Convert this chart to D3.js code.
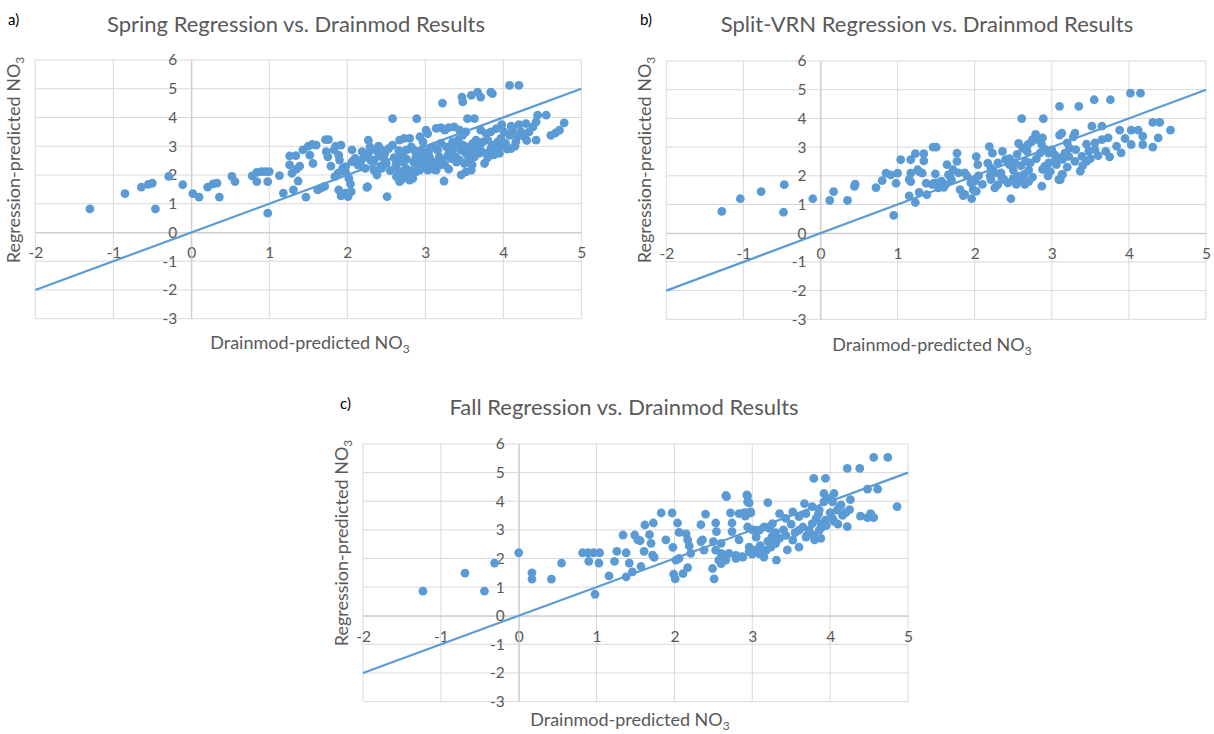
<!DOCTYPE html>
<html>
<head>
<meta charset="utf-8">
<script src="https://cdn.jsdelivr.net/npm/d3@7"></script>
<style>
  body { margin: 0; background: #fff; }
  svg { display: block; font-family: Lato, "Open Sans", sans-serif; }
</style>
</head>
<body>
<svg id="chart" width="1214" height="734"></svg>
<script>
// [Drainmod-predicted NO3, Regression-predicted NO3]
var springPoints = [
  [-1.3,0.82],[-0.85,1.35],[-0.64,1.58],[-0.55,1.67],[-0.5,1.72],[-0.46,0.82],[-0.29,1.95],[-0.11,1.66],
  [0.02,1.35],[0.1,1.23],[0.21,1.58],[0.28,1.69],[0.33,1.72],[0.36,1.23],[0.52,1.95],[0.56,1.77],
  [0.78,1.97],[0.84,2.09],[0.9,2.12],[0.95,2.12],[1.0,2.12],[0.84,1.77],[0.98,1.77],[0.98,0.67],
  [1.13,1.98],[1.18,1.37],[1.26,2.66],[1.34,2.67],[1.26,2.35],[1.29,2.06],[1.31,1.48],[1.35,2.2],
  [1.39,2.31],[1.37,1.79],[1.43,2.87],[1.5,3.0],[1.55,3.06],[1.6,3.04],[1.47,1.23],[1.52,2.69],
  [1.56,2.4],[1.62,1.48],[1.66,1.54],[1.71,1.6],[1.72,3.23],[1.76,3.23],[1.73,2.81],[1.75,2.63],
  [1.79,2.31],[1.83,2.87],[1.85,3.0],[1.89,2.69],[1.9,2.52],[1.92,3.04],[1.89,1.48],[1.92,1.27],
  [1.98,2.29],[1.98,2.08],[1.98,1.37],[2.02,1.88],[2.06,2.87],[2.06,2.46],[2.1,2.58],[2.01,1.25],
  [2.04,1.69],[2.05,1.42],[1.84,1.94],[1.88,2.06],[1.94,2.23],[2.19,2.81],[2.23,2.63],[2.27,2.75],
  [2.27,3.21],[2.17,2.35],[2.23,2.23],[2.14,2.34],[2.18,2.52],[2.29,2.98],[2.34,2.52],[2.36,2.87],
  [2.4,3.0],[2.44,2.87],[2.34,2.17],[2.38,2.0],[2.25,1.57],[2.44,2.23],[2.48,2.52],[2.51,1.25],
  [2.26,1.59],[2.48,2.75],[2.53,2.92],[2.58,3.04],[2.43,2.29],[2.5,2.4],[2.58,3.96],[2.63,2.4],
  [2.65,2.17],[2.63,1.94],[2.67,1.77],[2.69,2.63],[2.71,2.75],[2.75,2.86],[2.67,3.21],[2.73,3.27],
  [2.8,3.27],[2.82,2.98],[2.86,2.86],[2.88,2.63],[2.9,2.34],[2.88,2.11],[2.84,1.88],[2.75,2.23],
  [2.78,2.0],[2.8,1.82],[2.89,3.96],[2.93,3.33],[2.97,3.15],[3.01,3.56],[3.03,3.44],[2.95,2.86],
  [2.99,2.75],[3.05,2.86],[3.1,2.98],[2.97,2.46],[3.01,2.34],[3.07,2.52],[3.12,2.4],[2.93,2.17],
  [2.99,2.29],[3.03,2.17],[3.14,3.62],[3.2,3.65],[3.25,3.56],[3.3,3.65],[3.16,2.86],[3.2,3.1],
  [3.27,2.98],[3.31,2.86],[3.35,3.15],[3.39,3.04],[3.18,2.63],[3.22,2.52],[3.29,2.69],[3.33,2.57],
  [3.39,2.63],[3.14,2.17],[3.18,2.34],[3.24,1.79],[3.22,4.5],[3.37,3.67],[3.44,3.56],[3.48,3.38],
  [3.52,3.5],[3.42,3.21],[3.48,3.04],[3.54,2.98],[3.61,3.1],[3.65,3.21],[3.46,2.86],[3.52,2.75],
  [3.59,2.81],[3.63,2.63],[3.69,2.75],[3.44,2.52],[3.5,2.4],[3.56,2.46],[3.46,2.0],[3.52,2.11],
  [3.59,2.17],[3.47,4.71],[3.48,4.54],[3.54,3.96],[3.63,3.96],[3.59,4.77],[3.67,4.88],[3.71,4.71],
  [3.84,4.88],[3.86,4.83],[3.71,3.56],[3.78,3.44],[3.84,3.5],[3.91,3.61],[3.74,3.15],[3.8,3.21],
  [3.86,3.04],[3.93,3.15],[3.71,2.86],[3.78,2.75],[3.84,2.92],[3.91,2.86],[3.76,2.4],[3.97,3.27],
  [4.01,3.5],[4.08,3.38],[4.12,3.56],[4.18,3.33],[4.23,3.5],[3.97,2.98],[4.03,3.1],[4.1,2.92],
  [4.16,3.15],[4.08,5.12],[4.2,5.12],[4.29,3.79],[4.38,3.67],[4.42,3.85],[4.44,4.08],[4.55,4.08],
  [4.42,3.21],[4.33,3.5],[4.27,3.33],[4.61,3.38],[4.67,3.46],[4.72,3.56],[4.78,3.81],
  [2.62,2.3],[2.68,2.05],[2.72,2.45],[2.7,1.85],[2.76,2.55],[2.82,2.15],[2.85,2.45],[2.92,2.6],
  [2.6,2.6],[2.66,2.85],[3.05,2.65],[3.1,2.2],[3.15,2.45],[3.25,2.35],[3.3,2.2],[3.35,2.85],
  [3.4,2.45],[3.55,2.65],[3.6,2.35],[3.65,2.95],[3.7,3.05],[3.8,2.6],[3.88,2.7],[3.95,2.75],
  [4.05,2.9],[4.15,3.0],[4.3,3.2],[4.2,3.75],[4.1,3.7],[3.98,3.75],[2.4,2.65],[2.55,2.15],[2.3,2.5]
];

var splitPoints = [
  [-1.28,0.76],[-1.04,1.2],[-0.77,1.45],[-0.47,1.69],[-0.48,0.73],[-0.1,1.2],[0.12,1.14],[0.17,1.45],
  [0.35,1.14],[0.44,1.63],[0.45,1.71],[0.72,1.59],[0.8,1.83],[0.85,2.09],[0.91,2.03],[1.0,2.09],
  [0.98,1.74],[0.95,0.62],[1.04,2.56],[1.17,2.56],[1.23,2.77],[1.34,2.77],[1.34,2.52],[1.17,2.09],
  [1.28,2.15],[1.32,2.09],[1.17,1.8],[1.37,1.74],[1.15,1.3],[1.23,1.07],[1.28,1.42],[1.38,1.34],
  [1.46,3.0],[1.5,3.0],[1.49,2.07],[1.47,1.74],[1.26,2.21],[1.15,1.87],[1.45,1.69],[1.51,1.75],
  [1.53,1.58],[1.64,2.39],[1.66,2.04],[1.77,2.79],[1.77,2.5],[1.72,2.21],[1.79,2.1],[1.68,1.98],
  [1.57,1.81],[1.62,1.69],[1.87,2.1],[1.85,1.31],[1.96,1.2],[2.02,2.67],[2.04,2.39],[2.0,1.81],
  [1.98,1.52],[2.02,1.46],[2.19,3.02],[2.23,2.79],[2.17,2.44],[2.21,2.27],[2.26,2.1],[2.21,1.87],
  [2.26,1.58],[2.3,1.69],[2.36,2.85],[2.4,2.56],[2.45,2.39],[2.34,2.1],[2.38,1.87],[2.43,1.75],
  [2.47,1.2],[2.57,3.13],[2.62,2.96],[2.68,2.85],[2.74,3.19],[2.83,3.25],[2.87,3.08],[2.61,3.99],
  [2.89,3.99],[2.5,2.2],[2.55,2.0],[2.6,1.85],[2.65,1.7],[2.6,2.35],[2.66,2.5],[2.7,2.2],
  [2.72,2.45],[2.75,1.95],[2.7,1.8],[2.96,2.79],[3.0,2.9],[3.04,2.73],[3.1,2.62],[3.17,2.79],
  [3.23,2.96],[3.1,3.42],[3.28,3.36],[2.87,1.64],[2.91,2.33],[2.98,2.15],[3.06,2.39],[3.13,2.04],
  [3.09,1.87],[3.1,4.42],[3.35,4.42],[3.55,4.65],[3.76,4.65],[4.02,4.88],[4.15,4.88],[3.13,3.49],
  [3.3,3.49],[3.52,3.73],[3.65,3.73],[3.88,3.59],[4.03,3.59],[4.12,3.59],[4.18,3.38],[4.31,3.86],
  [4.4,3.86],[4.54,3.59],[4.38,3.32],[4.31,3.0],[4.18,3.09],[4.03,3.09],[3.75,2.66],[3.9,2.8],
  [3.84,3.03],[3.73,3.32],[3.65,3.26],[3.56,3.15],[3.37,2.16],[3.11,1.87],[3.14,2.05],[3.31,2.91],
  [3.39,2.68],[3.48,2.86],[3.56,2.91],[3.22,2.68],[3.14,2.57],[2.92,2.91],[3.01,2.8],[3.05,2.57],
  [2.96,2.45],[2.88,2.22],[2.75,3.26],[2.79,3.44],[2.88,3.32],[2.69,3.09],
  [3.45,2.5],[3.5,2.6],[3.4,2.35],[3.6,2.7],[3.7,2.85],[3.95,3.3],[2.55,2.75],[2.45,2.6],
  [2.3,2.45],[2.2,2.0],[2.35,1.95],[2.5,1.9],[2.95,2.0],[3.2,2.3],[3.3,2.5],[3.45,3.1],
  [3.2,3.15],[1.95,1.75],[1.9,2.0],[2.1,1.7],[2.05,2.0],[1.7,1.85],[1.6,1.6],[2.8,2.6],
  [2.85,2.8],[2.64,2.05],[2.52,2.45],[2.58,1.81],[1.87,1.35],[1.81,1.52],[2.54,1.7]
];

var fallPoints = [
  [-1.23,0.86],[-0.69,1.49],[-0.44,0.86],[-0.31,1.84],[0.0,2.2],[0.17,1.5],[0.17,1.28],[0.42,1.28],
  [0.55,1.84],[0.82,2.2],[0.89,2.2],[0.96,2.2],[1.04,2.2],[0.9,1.9],[1.03,1.84],[0.98,0.75],
  [1.16,1.39],[1.23,1.9],[1.26,2.25],[1.34,2.82],[1.38,2.2],[1.38,1.36],[1.46,1.53],[1.42,1.84],
  [1.49,2.82],[1.56,2.62],[1.62,3.17],[1.68,2.83],[1.61,2.25],[1.57,1.72],[1.53,2.65],[1.7,2.53],
  [1.72,2.12],[1.74,2.04],[1.73,3.24],[1.83,3.59],[1.97,3.59],[1.89,2.65],[2.04,3.24],[1.98,2.39],
  [2.02,1.94],[2.06,2.0],[1.99,1.45],[2.01,1.29],[2.11,1.47],[2.17,1.68],[2.21,2.18],[2.06,2.91],
  [2.15,2.86],[2.17,2.65],[2.19,2.44],[2.34,3.18],[2.4,3.55],[2.36,2.65],[2.38,2.29],[2.34,2.59],
  [2.49,1.65],[2.51,1.29],[2.53,3.24],[2.54,2.94],[2.5,2.59],[2.53,2.29],[2.6,2.53],[2.6,2.18],
  [2.57,1.94],[2.66,1.94],[2.7,2.18],[2.66,4.2],[2.72,3.59],[2.74,3.24],[2.74,2.94],[2.83,2.65],
  [2.89,3.59],[2.98,3.59],[2.94,4.18],[2.96,3.94],[3.0,3.0],[2.79,2.0],[2.87,2.06],[2.96,2.24],
  [3.02,2.29],[3.09,2.18],[3.15,2.29],[4.56,5.53],[4.74,5.53],[4.22,5.15],[4.38,5.15],[3.79,4.8],
  [3.94,4.8],[3.92,4.27],[4.05,4.27],[4.48,4.42],[4.61,4.42],[4.86,3.81],[4.39,3.48],[4.48,3.43],
  [4.56,3.43],[4.52,3.57],[4.26,4.06],[4.25,3.71],[4.16,3.51],[4.22,3.11],[4.14,3.87],[4.09,3.69],
  [4.03,3.4],[3.2,3.95],[2.93,3.6],[2.98,3.63],[2.91,3.48],[3.31,1.94],[2.6,1.82],[2.79,2.11],
  [2.88,2.05],[2.67,4.16],[2.93,4.22],[2.94,3.98],[2.83,3.57],
  [2.94,3.1],[3.03,2.99],[3.09,2.99],[3.15,3.1],[3.22,3.05],[3.26,3.22],[3.35,3.57],[3.43,3.4],
  [3.52,3.63],[3.6,3.46],[3.67,3.92],[2.96,2.4],[3.03,2.23],[3.09,2.17],[3.18,2.29],[3.24,2.4],
  [3.3,2.52],[3.35,2.7],[3.43,2.81],[3.52,2.64],[3.6,2.4],[3.86,2.99],[3.88,2.7],[3.79,2.81],
  [3.73,2.99],[3.69,3.57],[3.77,3.81],[3.86,3.69],[3.92,3.98],[3.94,3.34],[3.88,3.22],[3.6,2.99],
  [3.69,2.75],[3.77,3.22],[3.82,3.4],[4.03,3.98],[4.12,3.81],
  [3.25,2.75],[3.4,3.0],[3.5,3.2],[3.65,3.1],[3.7,2.8],[3.8,2.65],[3.85,3.55],[3.9,3.1],
  [3.55,2.9],[3.45,2.3],[3.3,2.9],[3.1,2.45],[3.2,2.6],[3.15,2.05],[3.0,2.15],[3.05,2.75],
  [3.95,3.15],[4.05,3.3],[4.1,3.2],[4.2,3.6],[3.98,4.1],[4.0,3.6]
];

var xTicks = [-2, -1, 0, 1, 2, 3, 4, 5];
var yTicks = [-3, -2, -1, 0, 1, 2, 3, 4, 5, 6];
var panelLetters = ["a)", "b)", "c)"];
var panelTitles = [
  "Spring Regression vs. Drainmod Results",
  "Split-VRN Regression vs. Drainmod Results",
  "Fall Regression vs. Drainmod Results"
];

var blue = "#5b9bd5";
var grey = "#595959";

// plot boxes and text positions for the three panels
var layouts = [
  {left: 35.3, right: 581.3, top: 60, bottom: 318.7, titleX: 296, titleY: 32, letterX: 8, letterY: 25,
   yTitleX: 20, yTitleY: 160, xTitleX: 310, xTitleY: 349},
  {left: 666.3, right: 1206, top: 61, bottom: 319.3, titleX: 927, titleY: 32, letterX: 640, letterY: 25,
   yTitleX: 651, yTitleY: 160, xTitleX: 932, xTitleY: 351},
  {left: 363, right: 908, top: 444, bottom: 701.6, titleX: 624, titleY: 415, letterX: 340, letterY: 409,
   yTitleX: 348, yTitleY: 543, xTitleX: 630, xTitleY: 726}
];

var svg = d3.select("#chart");

function drawPanel(points, i) {
  var L = layouts[i];
  var x = d3.scaleLinear().domain([-2, 5]).range([L.left, L.right]);
  var y = d3.scaleLinear().domain([-3, 6]).range([L.bottom, L.top]);
  var g = svg.append("g");

  g.selectAll(".vgrid").data(xTicks).join("line")
    .attr("x1", d => x(d)).attr("x2", d => x(d))
    .attr("y1", y(-3)).attr("y2", y(6))
    .attr("stroke", "#d9d9d9").attr("stroke-width", 1);
  g.selectAll(".hgrid").data(yTicks).join("line")
    .attr("x1", x(-2)).attr("x2", x(5))
    .attr("y1", d => y(d)).attr("y2", d => y(d))
    .attr("stroke", "#d9d9d9").attr("stroke-width", 1);

  var xAxis = g.append("g").attr("transform", `translate(0, ${y(0)})`)
    .call(d3.axisBottom(x).tickValues(xTicks).tickSize(0).tickPadding(15).tickFormat(d => String(d)));
  var yAxis = g.append("g").attr("transform", `translate(${x(0)}, 0)`)
    .call(d3.axisLeft(y).tickValues(yTicks).tickSize(0).tickPadding(14).tickFormat(d => String(d)));
  [xAxis, yAxis].forEach(a => {
    a.select(".domain").attr("stroke", "#c8c8c8");
    a.selectAll("text").attr("fill", grey).attr("font-size", 15.5)
      .attr("font-family", "Lato, 'Open Sans', sans-serif");
  });

  // 1:1 line
  g.append("line")
    .attr("x1", x(-2)).attr("y1", y(-2)).attr("x2", x(5)).attr("y2", y(5))
    .attr("stroke", blue).attr("stroke-width", 2.2);

  g.selectAll("circle").data(points).join("circle")
    .attr("cx", d => x(d[0])).attr("cy", d => y(d[1]))
    .attr("r", 4.4).attr("fill", blue);

  g.append("text").attr("x", L.titleX).attr("y", L.titleY)
    .attr("text-anchor", "middle").attr("font-size", 22).attr("fill", grey)
    .text(panelTitles[i]);
  g.append("text").attr("x", L.letterX).attr("y", L.letterY)
    .attr("font-size", 15).attr("fill", "#000").text(panelLetters[i]);

  var xt = g.append("text").attr("x", L.xTitleX).attr("y", L.xTitleY)
    .attr("text-anchor", "middle").attr("font-size", 18).attr("fill", grey);
  xt.append("tspan").text("Drainmod-predicted NO");
  xt.append("tspan").attr("font-size", 12).attr("dy", 4).text("3");

  var yt = g.append("text")
    .attr("transform", `translate(${L.yTitleX}, ${L.yTitleY}) rotate(-90)`)
    .attr("text-anchor", "middle").attr("font-size", 18).attr("fill", grey);
  yt.append("tspan").text("Regression-predicted NO");
  yt.append("tspan").attr("font-size", 12).attr("dy", 4).text("3");
}

[springPoints, splitPoints, fallPoints].forEach(drawPanel);
</script>
</body>
</html>
